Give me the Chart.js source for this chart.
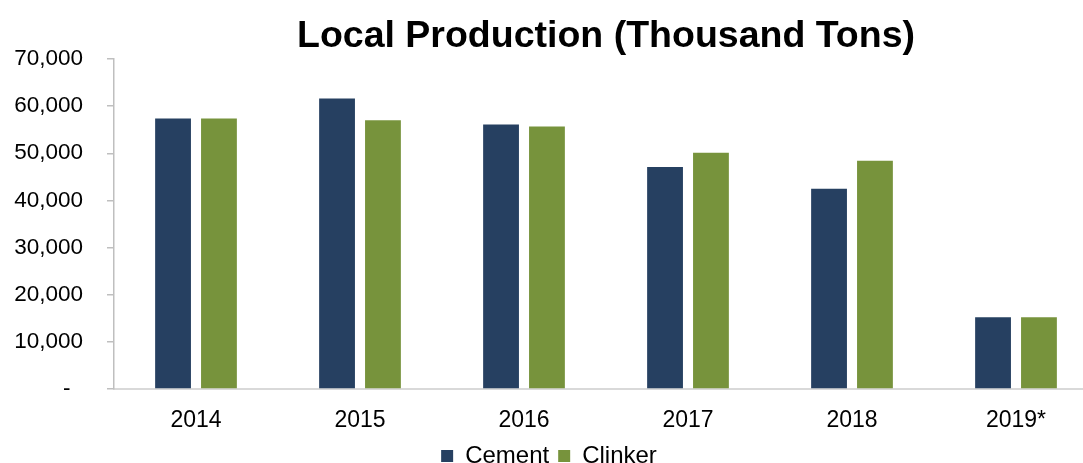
<!DOCTYPE html>
<html>
<head>
<meta charset="utf-8">
<script src="https://cdn.jsdelivr.net/npm/chart.js@4/dist/chart.umd.min.js"></script>
<style>
  html, body { margin: 0; padding: 0; background: #fff; overflow: hidden; }
  #wrap { width: 1124px; height: 478px; }
</style>
</head>
<body>
<div id="wrap"><canvas id="prod" width="1124" height="478"></canvas></div>
<script>
const years = ['2014', '2015', '2016', '2017', '2018', '2019*'];
const cement = [57400, 61600, 56100, 47100, 42500, 15200];
const clinker = [57400, 57000, 55700, 50100, 48400, 15200];

const FONT = '"Liberation Sans", Arial, sans-serif';

new Chart(document.getElementById('prod'), {
    type: 'bar',
    data: {
        labels: years,
        datasets: [
            {
                label: 'Cement',
                data: cement,
                backgroundColor: '#264061',
                categoryPercentage: 0.56,
                barPercentage: 0.78
            },
            {
                label: 'Clinker',
                data: clinker,
                backgroundColor: '#77933c',
                categoryPercentage: 0.56,
                barPercentage: 0.78
            }
        ]
    },
    options: {
        responsive: false,
        animation: false,
        layout: { padding: { left: 0, right: 26, top: 0, bottom: 0 } },
        plugins: {
            tooltip: { enabled: false },
            title: {
                display: true,
                fullSize: false,
                text: 'Local Production (Thousand Tons)',
                color: '#000',
                font: { family: FONT, size: 37.5, weight: 'bold' },
                padding: { top: 14, bottom: 0 }
            },
            legend: {
                position: 'bottom',
                labels: {
                    color: '#000',
                    font: { family: FONT, size: 24 },
                    boxWidth: 12,
                    boxHeight: 12,
                    padding: 9
                }
            }
        },
        scales: {
            x: {
                afterFit: s => { s.height = 46; },
                grid: { display: false, drawTicks: false },
                border: { display: true, color: '#d9d9d9', width: 2 },
                ticks: { color: '#000', font: { family: FONT, size: 23 }, padding: 18 }
            },
            y: {
                min: 0,
                max: 70000,
                afterFit: s => { s.width = 114; },
                grid: { drawOnChartArea: false, drawTicks: true, tickLength: 7, color: '#bfbfbf', lineWidth: 1.5 },
                border: { display: true, color: '#bfbfbf', width: 1.5 },
                ticks: {
                    stepSize: 10000,
                    color: '#000',
                    padding: 24,
                    font: { family: FONT, size: 22.5 },
                    callback: v => v === 0 ? '-  ' : v.toLocaleString('en-US')
                }
            }
        }
    }
});
</script>
</body>
</html>
